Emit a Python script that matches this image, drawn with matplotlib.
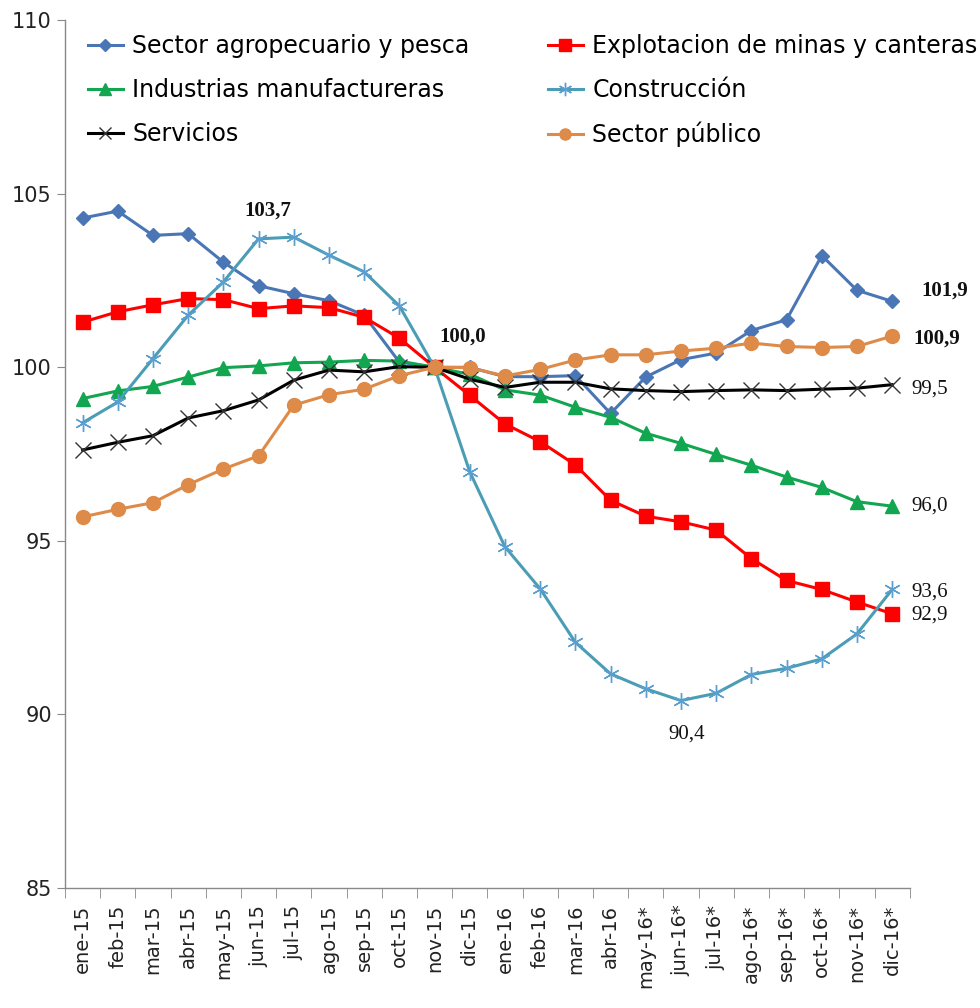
import numpy as np
import matplotlib
matplotlib.use('Agg')
import matplotlib.pyplot as plt
from matplotlib.ticker import FixedLocator, NullFormatter

meses = ['ene-15', 'feb-15', 'mar-15', 'abr-15', 'may-15', 'jun-15', 'jul-15',
         'ago-15', 'sep-15', 'oct-15', 'nov-15', 'dic-15', 'ene-16', 'feb-16',
         'mar-16', 'abr-16', 'may-16*', 'jun-16*', 'jul-16*', 'ago-16*',
         'sep-16*', 'oct-16*', 'nov-16*', 'dic-16*']

agro = [104.3, 104.5, 103.8, 103.85, 103.03, 102.35, 102.12, 101.92, 101.5, 100.15,
        100.0, 100.0, 99.73, 99.73, 99.76, 98.67, 99.72, 100.22, 100.41, 101.06,
        101.37, 103.22, 102.22, 101.9]
minas = [101.3, 101.6, 101.8, 101.98, 101.95, 101.69, 101.77, 101.72, 101.44, 100.84,
         100.0, 99.19, 98.37, 97.86, 97.19, 96.17, 95.71, 95.55, 95.31, 94.49,
         93.86, 93.6, 93.24, 92.9]
industrias = [99.1, 99.32, 99.45, 99.72, 99.99, 100.04, 100.13, 100.15, 100.2, 100.18,
              100.0, 99.8, 99.35, 99.2, 98.85, 98.56, 98.1, 97.81, 97.49, 97.18,
              96.84, 96.54, 96.13, 96.0]
construccion = [98.4, 99.0, 100.25, 101.5, 102.46, 103.7, 103.75, 103.23, 102.75, 101.77,
                100.0, 96.99, 94.83, 93.62, 92.08, 91.17, 90.74, 90.4, 90.61, 91.15,
                91.33, 91.6, 92.32, 93.6]
servicios = [97.62, 97.84, 98.03, 98.54, 98.75, 99.06, 99.63, 99.92, 99.87, 100.02,
             100.0, 99.66, 99.42, 99.57, 99.57, 99.38, 99.33, 99.3, 99.33, 99.35,
             99.33, 99.37, 99.4, 99.5]
publico = [95.69, 95.91, 96.1, 96.62, 97.07, 97.45, 98.91, 99.21, 99.37, 99.76,
           100.0, 99.99, 99.75, 99.94, 100.21, 100.36, 100.36, 100.47, 100.55, 100.7,
           100.6, 100.57, 100.6, 100.9]

nombres = ['Sector agropecuario y pesca', 'Explotacion de minas y canteras',
           'Industrias manufactureras', 'Construcción', 'Servicios', 'Sector público']

# (serie, indice del mes, texto, dx, dy, negrita) -- offsets in points
etiquetas = [
    (construccion, 5, '103,7', 7, 20, True),
    (agro, 10, '100,0', 20, 22, True),
    (agro, 23, '101,9', 38, 8, True),
    (publico, 23, '100,9', 32, -2, True),
    (servicios, 23, '99,5', 27, -3, False),
    (industrias, 23, '96,0', 27, 0, False),
    (construccion, 23, '93,6', 27, -2, False),
    (minas, 23, '92,9', 27, -1, False),
    (construccion, 17, '90,4', 4, -24, False),
]

estilos = [
    dict(color='#4A76B5', marker='D', ms=7.5, mec='#4A76B5'),
    dict(color='#FF0000', marker='s', ms=10, mec='#FF0000'),
    dict(color='#12A651', marker='^', ms=10, mec='#12A651'),
    dict(color='#4B9DB5', marker=(6, 2, 0), ms=12, mec='#5B9FD0', mew=1.0),
    dict(color='#000000', marker='x', ms=11, mec='#333333', mew=1.0),
    dict(color='#DE8A48', marker='o', ms=10, mec='#DE8A48'),
]

series = [agro, minas, industrias, construccion, servicios, publico]

fig = plt.figure(figsize=(9.8, 10.08), dpi=100)
ax = fig.add_axes([0.0663, 0.119, 0.862, 0.861])

x = np.arange(len(meses))
lineas = []
for s, nom, st in zip(series, nombres, estilos):
    l, = ax.plot(x, s, lw=2.2, label=nom, **st)
    lineas.append(l)

for s, i, txt, dx, dy, bold in etiquetas:
    ax.annotate(txt, (x[i], s[i]), xytext=(dx, dy), textcoords='offset points',
                ha='center', va='center', fontsize=15, family='Liberation Serif',
                fontweight='bold' if bold else 'normal', color='#111111')

ax.set_xlim(-0.5, len(meses) - 0.5)
ax.set_ylim(85, 110)
ax.set_yticks([85, 90, 95, 100, 105, 110])
ax.set_xticks(x)
ax.set_xticklabels(meses, rotation=90, fontsize=14)
ax.xaxis.set_minor_locator(FixedLocator(np.arange(-0.5, len(meses), 1.0)))
ax.xaxis.set_minor_formatter(NullFormatter())
ax.tick_params(axis='x', which='major', length=0, pad=12, colors='#222222')
ax.tick_params(axis='x', which='minor', length=7, color='#898989')
ax.tick_params(axis='y', length=6, color='#898989', labelsize=15, labelcolor='#222222')

for sp in ['top', 'right']:
    ax.spines[sp].set_visible(False)
for sp in ['left', 'bottom']:
    ax.spines[sp].set_color('#898989')
    ax.spines[sp].set_linewidth(1.0)

# legend filled row by row, like the original
orden = [0, 2, 4, 1, 3, 5]
ax.legend([lineas[i] for i in orden], [nombres[i] for i in orden],
          loc='upper left', bbox_to_anchor=(0.01, 1.0), ncol=2, frameon=False,
          fontsize=17, handlelength=1.5, handletextpad=0.4, columnspacing=3.3,
          labelspacing=0.84, borderaxespad=0.2, markerscale=0.8)

plt.savefig('out.png', dpi=100)
